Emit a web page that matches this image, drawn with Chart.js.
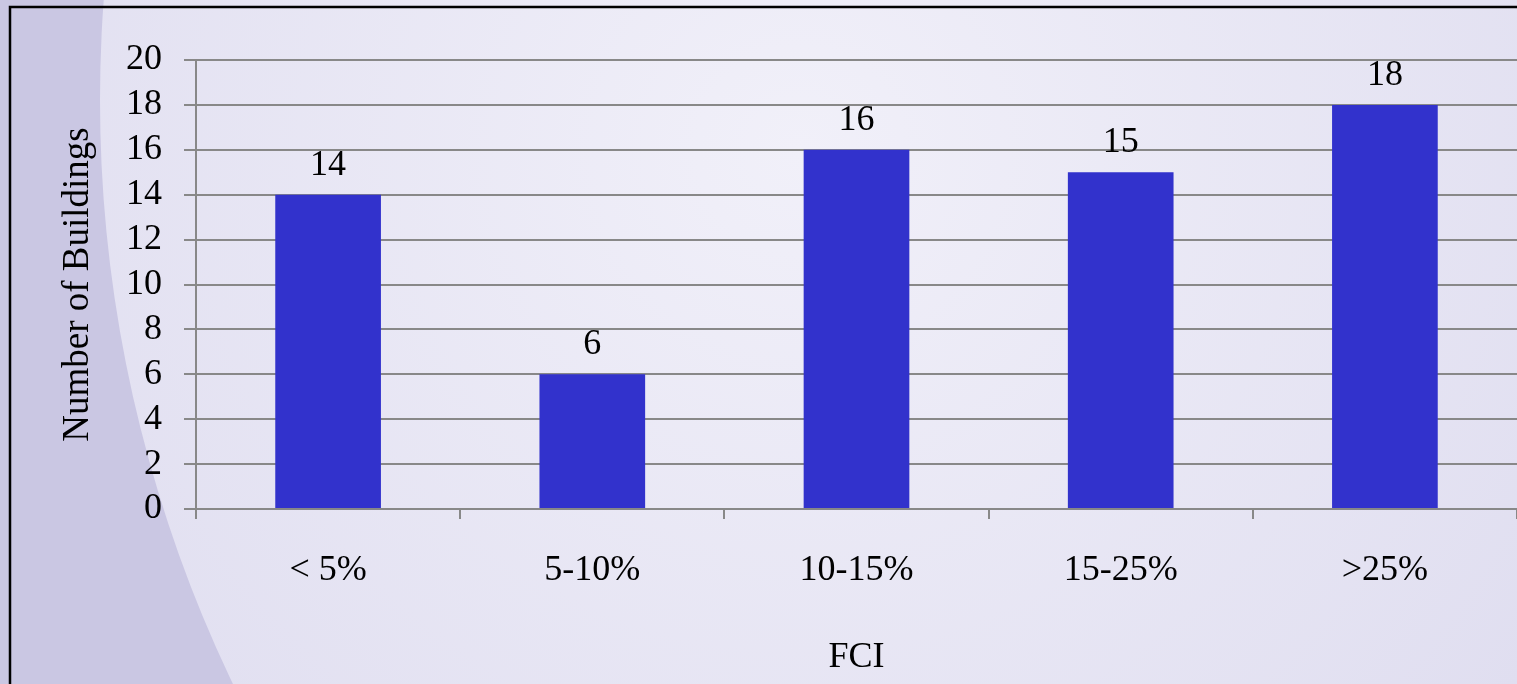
<!DOCTYPE html>
<html>
<head>
<meta charset="utf-8">
<script src="https://cdn.jsdelivr.net/npm/chart.js@4"></script>
<style>
  html, body { margin: 0; padding: 0; background: #e6e4f2; }
  #wrap { width: 1517px; height: 684px; position: relative; }
</style>
</head>
<body>
<div id="wrap"><canvas id="c" width="1517" height="684"></canvas></div>
<script>
const categories = ['< 5%', '5-10%', '10-15%', '15-25%', '>25%'];
const buildingCounts = [14, 6, 16, 15, 18];
const yTickMin = 0;
const yTickMax = 20;
const yTickStep = 2;
const xTitle = 'FCI';
const yTitle = 'Number of Buildings';

const FONT = '"Liberation Serif", "Times New Roman", serif';
const FS = 36;

const bgPlugin = {
  id: 'bg',
  beforeDraw(chart) {
    const { ctx, width, height } = chart;
    ctx.save();
    const g = ctx.createRadialGradient(800, 150, 0, 800, 150, 1100);
    g.addColorStop(0, '#f1f0f9');
    g.addColorStop(1, '#dcdaee');
    ctx.fillStyle = g;
    ctx.fillRect(0, 0, width, height);
    ctx.beginPath();
    ctx.rect(0, 0, width, height);
    ctx.arc(1449, 100, 1349, 0, Math.PI * 2);
    ctx.fillStyle = '#cac7e3';
    ctx.fill('evenodd');
    ctx.strokeStyle = '#000';
    ctx.lineWidth = 2.5;
    ctx.strokeRect(10, 7, width + 20, height + 20);
    ctx.restore();
  }
};

const labelPlugin = {
  id: 'barLabels',
  afterDatasetsDraw(chart) {
    const { ctx } = chart;
    const meta = chart.getDatasetMeta(0);
    ctx.save();
    ctx.font = FS + 'px ' + FONT;
    ctx.fillStyle = '#000';
    ctx.textAlign = 'center';
    ctx.textBaseline = 'alphabetic';
    meta.data.forEach((bar, i) => {
      ctx.fillText(String(buildingCounts[i]), bar.x, bar.y - 20);
    });
    ctx.restore();
  }
};

new Chart(document.getElementById('c'), {
  type: 'bar',
  data: {
    labels: categories,
    datasets: [{
      data: buildingCounts,
      backgroundColor: '#3232cc',
      borderWidth: 0,
      categoryPercentage: 0.8,
      barPercentage: 0.5
    }]
  },
  options: {
    responsive: false,
    devicePixelRatio: 1,
    animation: false,
    layout: { padding: { top: 60, right: 0, bottom: 0, left: 0 } },
    plugins: {
      legend: { display: false },
      tooltip: { enabled: false },
      title: { display: false }
    },
    scales: {
      x: {
        afterFit(scale) { scale.height = 175; },
        grid: {
          offset: true,
          drawOnChartArea: false,
          drawTicks: true,
          tickLength: 10,
          color: '#888888',
          lineWidth: 2
        },
        border: { color: '#888888', width: 2 },
        ticks: {
          color: '#000',
          padding: 30,
          autoSkip: false,
          maxRotation: 0,
          font: { family: FONT, size: FS }
        },
        title: {
          display: true,
          text: xTitle,
          color: '#000',
          font: { family: FONT, size: FS },
          padding: { top: 0, bottom: 5 }
        }
      },
      y: {
        min: yTickMin,
        max: yTickMax,
        afterFit(scale) { scale.width = 196; },
        grid: {
          color: '#888888',
          lineWidth: 2,
          drawTicks: true,
          tickLength: 12
        },
        border: { color: '#888888', width: 2 },
        ticks: {
          stepSize: yTickStep,
          autoSkip: false,
          color: '#000',
          padding: 22,
          font: { family: FONT, size: FS }
        },
        title: {
          display: true,
          text: yTitle,
          color: '#000',
          font: { family: FONT, size: 37 },
          padding: { top: 56, bottom: 0 }
        }
      }
    }
  },
  plugins: [bgPlugin, labelPlugin]
});
</script>
</body>
</html>
